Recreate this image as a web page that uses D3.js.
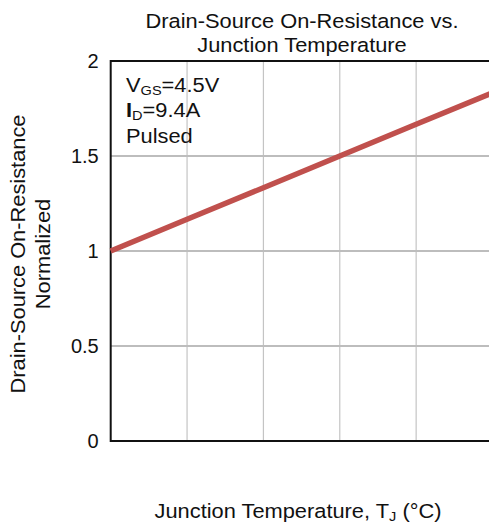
<!DOCTYPE html>
<html>
<head>
<meta charset="utf-8">
<script src="https://cdn.jsdelivr.net/npm/d3@7"></script>
<style>
  html, body { margin: 0; padding: 0; background: #fff; }
  svg { display: block; font-family: "Liberation Sans", Arial, sans-serif; }
</style>
</head>
<body>
<svg id="chart" width="489" height="529"></svg>
<script>
// Normalized on-resistance vs. junction temperature
const tempC = [-50, -25, 0, 25, 50, 75];
const rdsNorm = [1.0, 1.167, 1.333, 1.5, 1.667, 1.833];
const yTicks = [0, 0.5, 1, 1.5, 2];
const xGrid = [-25, 0, 25, 50, 75];
const titleLines = ["Drain-Source On-Resistance vs.", "Junction Temperature"];
const yLabelLines = ["Drain-Source On-Resistance", "Normalized"];

const svg = d3.select("#chart");
const W = 489, H = 529;
const plot = { left: 110.7, right: 492.5, top: 61, bottom: 441 };
const FS = 19.5;      // main text size
const SX = 1.12;      // horizontal stretch of the label face

const x = d3.scaleLinear().domain([-50, 75]).range([plot.left, plot.right]);
const y = d3.scaleLinear().domain([0, 2]).range([plot.bottom, plot.top]);

svg.append("rect").attr("width", W).attr("height", H).attr("fill", "#fff");

// vertical grid
svg.append("g").selectAll("line").data(xGrid).join("line")
  .attr("x1", d => x(d)).attr("x2", d => x(d))
  .attr("y1", plot.top).attr("y2", plot.bottom)
  .attr("stroke", "#c4c4c4").attr("stroke-width", 1.2);

// horizontal grid
svg.append("g").selectAll("line").data(yTicks.filter(d => d > 0 && d < 2)).join("line")
  .attr("x1", plot.left).attr("x2", plot.right)
  .attr("y1", d => y(d)).attr("y2", d => y(d))
  .attr("stroke", "#bdbdbd").attr("stroke-width", 2.2);

// frame (top, left, bottom)
const frame = svg.append("g").attr("stroke", "#111").attr("stroke-width", 2).attr("fill", "none");
frame.append("line").attr("x1", plot.left).attr("x2", W).attr("y1", y(2)).attr("y2", y(2));
frame.append("line").attr("x1", plot.left).attr("x2", plot.left).attr("y1", y(2) - 1).attr("y2", y(0) + 1);
frame.append("line").attr("x1", plot.left).attr("x2", W).attr("y1", y(0)).attr("y2", y(0));

// y tick labels
const yAxis = d3.axisLeft(y).tickValues(yTicks).tickSize(0).tickPadding(12)
  .tickFormat(d => d3.format("")(d));
const ya = svg.append("g").attr("transform", `translate(${plot.left},0)`).call(yAxis);
ya.select(".domain").remove();
ya.selectAll("text").attr("font-size", 20).attr("fill", "#111")
  .attr("font-family", "Liberation Sans, Arial, sans-serif");

// data line
const line = d3.line().x((d, i) => x(tempC[i])).y(d => y(d));
svg.append("path").datum(rdsNorm)
  .attr("d", line)
  .attr("fill", "none")
  .attr("stroke", "#c0504d")
  .attr("stroke-width", 5.5)
  .attr("stroke-linecap", "butt");

// text placed at (px, py), stretched horizontally around its anchor
function label(px, py, rot, anchor) {
  return svg.append("g")
    .attr("transform", `translate(${px},${py}) rotate(${rot}) scale(${SX},1)`)
    .append("text")
    .attr("text-anchor", anchor)
    .attr("font-size", FS)
    .attr("fill", "#111");
}

// title
titleLines.forEach((t, i) => label(302, 28.3 + i * 23.6, 0, "middle").text(t));

// y label
yLabelLines.forEach((t, i) => label(25 + i * 25, 254, -90, "middle").text(t));

// x label
const xl = label(298, 518, 0, "middle");
xl.append("tspan").text("Junction Temperature, T");
xl.append("tspan").attr("font-size", 13).attr("dy", 3).text("J");
xl.append("tspan").attr("dy", -3).text(" (°C)");

// test conditions
const a1 = label(126, 92, 0, "start");
a1.append("tspan").text("V");
a1.append("tspan").attr("font-size", 13).attr("dy", 3).text("GS");
a1.append("tspan").attr("dy", -3).text("=4.5V");
const a2 = label(126, 117, 0, "start");
a2.append("tspan").attr("font-weight", "bold").text("I");
a2.append("tspan").attr("font-size", 13).attr("dy", 3).text("D");
a2.append("tspan").attr("dy", -3).text("=9.4A");
label(126, 143, 0, "start").text("Pulsed");
</script>
</body>
</html>
